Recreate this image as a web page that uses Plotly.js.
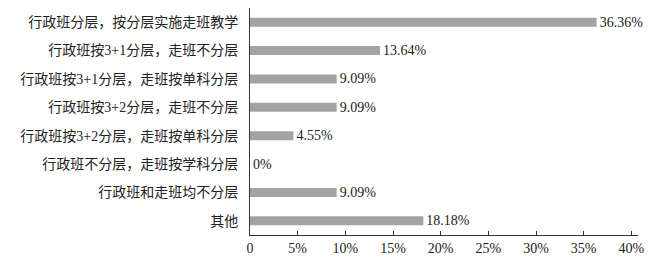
<!DOCTYPE html>
<html>
<head>
<meta charset="utf-8">
<script src="https://cdn.plot.ly/plotly-3.0.1.min.js"></script>
<style>html,body{margin:0;padding:0;background:#fff;}#chart{width:662px;height:269px;}</style>
</head>
<body>
<div id="chart"></div>
<script>
const categories = [
  "行政班分层，按分层实施走班教学",
  "行政班按3+1分层，走班不分层",
  "行政班按3+1分层，走班按单科分层",
  "行政班按3+2分层，走班不分层",
  "行政班按3+2分层，走班按单科分层",
  "行政班不分层，走班按学科分层",
  "行政班和走班均不分层",
  "其他"
];
const values = [36.36, 13.64, 9.09, 9.09, 4.55, 0, 9.09, 18.18];
const labels = ["36.36%", "13.64%", "9.09%", "9.09%", "4.55%", "0%", "9.09%", "18.18%"];
const xTickVals = [0, 5, 10, 15, 20, 25, 30, 35, 40];
const xTickText = ["0", "5%", "10%", "15%", "20%", "25%", "30%", "35%", "40%"];

const font = "Liberation Serif, Noto Sans CJK SC, serif";

Plotly.newPlot("chart", [{
  type: "bar",
  orientation: "h",
  y: categories,
  x: values,
  text: labels,
  textposition: "outside",
  constraintext: "none",
  cliponaxis: false,
  textfont: {family: font, size: 14, color: "#222"},
  outsidetextfont: {family: font, size: 14, color: "#222"},
  marker: {color: "#a3a3a3"},
  width: 0.32,
  hoverinfo: "none"
}], {
  width: 662, height: 269,
  margin: {l: 250, r: 24, t: 8, b: 34},
  paper_bgcolor: "#fff", plot_bgcolor: "#fff",
  showlegend: false,
  font: {family: font, size: 14, color: "#222"},
  xaxis: {
    range: [0, 40.7],
    tickvals: xTickVals, ticktext: xTickText,
    ticks: "inside", ticklen: 4, tickcolor: "#333",
    showgrid: false, zeroline: false,
    showline: true, linecolor: "#333", linewidth: 1,
    tickfont: {family: font, size: 14, color: "#222"}
  },
  yaxis: {
    autorange: "reversed",
    showgrid: false, zeroline: false,
    showline: true, linecolor: "#333", linewidth: 1,
    ticks: "", ticklabelstandoff: 8,
    tickfont: {family: font, size: 14, color: "#222"}
  }
}, {displayModeBar: false, staticPlot: true});
</script>
</body>
</html>
